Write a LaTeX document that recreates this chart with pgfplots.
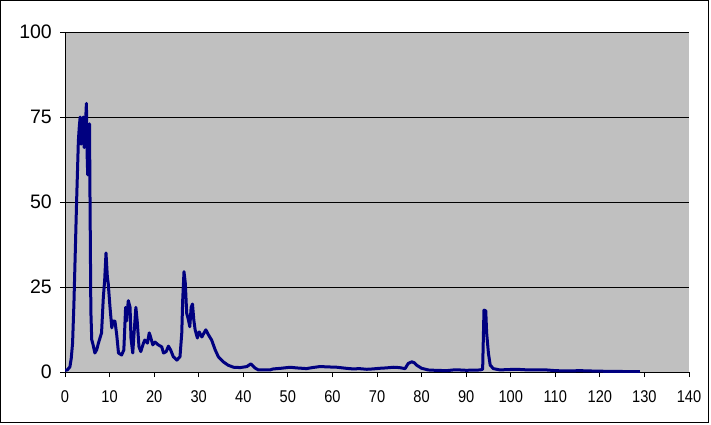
\documentclass[border=0pt]{standalone}
\usepackage{fontspec}
\setmainfont{Liberation Sans}
\usepackage{pgfplots}
\pgfplotsset{compat=1.18}
\definecolor{plotgray}{RGB}{192,192,192}
\definecolor{navyline}{RGB}{0,0,128}
\begin{document}
\begin{tikzpicture}[x=1pt,y=1pt]
\path[use as bounding box] (-65,-52) rectangle (646,372);
\draw[black,line width=1pt] (-64.5,-50.5) rectangle (643.5,371.5);
\begin{axis}[
  at={(0,0)}, anchor=south west,
  scale only axis, width=624pt, height=340pt,
  xmin=0, xmax=140, ymin=0, ymax=100,
  xtick={0,10,...,140}, ytick={0,25,50,75,100},
  axis background/.style={fill=plotgray},
  axis x line*=bottom, axis y line*=left,
  axis line style={black, line width=0.8pt, -},
  tick align=outside, major tick length=5pt,
  tick style={black, line width=0.8pt},
  ymajorgrids, grid style={black, line width=0.8pt},
  /pgf/number format/assume math mode=true,
  yticklabel style={font=\fontsize{19.5}{21}\selectfont, anchor=east, inner sep=0pt, xshift=-8pt},
  xticklabel style={font=\fontsize{17}{18}\selectfont, anchor=north, inner sep=0pt, yshift=-13pt},
  xticklabel={\scalebox{0.86}[1]{\pgfmathprintnumber{\tick}}},
  clip=true,
]
\draw[black, line width=0.8pt] (rel axis cs:0,1) -- (rel axis cs:1,1);
\addplot[navyline, line width=3pt, line join=round, no markers] coordinates {
(0,0.5) (0.5,0.6) (1.1,1.5) (1.4,4) (1.7,8.5) (2.0,20) (2.2,30) (2.6,50) (3.0,68) (3.2,72) (3.4,75) (3.6,67) (3.8,72) (4.1,75) (4.3,66) (4.5,70) (4.8,79) (5.0,62) (5.1,58) (5.3,70) (5.5,73) (5.6,53) (5.8,18) (6.0,9.5) (6.3,8) (6.7,5.6) (7.1,6.5) (7.5,8.5) (8.2,11.5) (8.6,22) (8.9,27) (9.2,35) (9.5,28) (9.7,26) (10.1,19) (10.5,13) (10.8,15) (11.2,15) (11.6,11) (12.0,5.6) (12.7,5) (13.2,6.5) (13.6,19) (13.8,15) (14.2,21) (14.6,19) (14.8,10) (15.2,5.6) (15.5,11.5) (15.9,19) (16.2,15) (16.6,7.4) (17.0,6) (17.6,8.5) (17.9,9.4) (18.5,8.5) (18.9,11.5) (19.2,10.3) (19.7,8) (20.2,8.8) (20.9,8) (21.7,7.4) (22.1,5.6) (22.7,6) (23.2,7.6) (23.7,6.5) (24.3,4.5) (25.1,3.5) (25.8,4.5) (26.2,11.5) (26.4,21) (26.7,29.5) (27.0,26) (27.3,17.3) (27.7,15.3) (28.0,13.3) (28.3,19) (28.6,20) (28.9,15.3) (29.2,12.4) (29.7,10) (30.1,11.8) (30.7,10.3) (31.2,11.5) (31.6,12.4) (32.2,10.9) (32.9,9.4) (33.7,6.5) (34.4,4.5) (35.5,3) (36.6,2) (37.8,1.4) (39.3,1.3) (40.8,1.6) (41.7,2.4) (42.6,1.2) (43.4,0.6) (46,0.6) (46.7,0.9) (48.5,1.1) (50.5,1.4) (52,1.2) (54.2,1.0) (55.5,1.3) (57.2,1.6) (59,1.5) (61,1.4) (63,1.1) (64.7,0.9) (66,1.0) (67.7,0.8) (69,0.9) (70.7,1.1) (72,1.2) (73.7,1.4) (75,1.3) (76.3,1.0) (77,2.5) (77.8,3.0) (78.4,2.7) (78.9,2.0) (80.0,1.1) (81.5,0.6) (83,0.5) (85.6,0.4) (87.1,0.6) (88.6,0.6) (90,0.5) (93.1,0.6) (93.7,0.8) (94.0,18.2) (94.4,18) (94.6,11.5) (95.0,5.5) (95.4,2) (96.1,1.0) (97.6,0.6) (99,0.7) (101.3,0.8) (104,0.6) (108.1,0.6) (110,0.4) (112.6,0.3) (115.5,0.4) (118,0.3) (121.5,0.2) (125,0.15) (129,0.1)
};
\end{axis}
\end{tikzpicture}
\end{document}
